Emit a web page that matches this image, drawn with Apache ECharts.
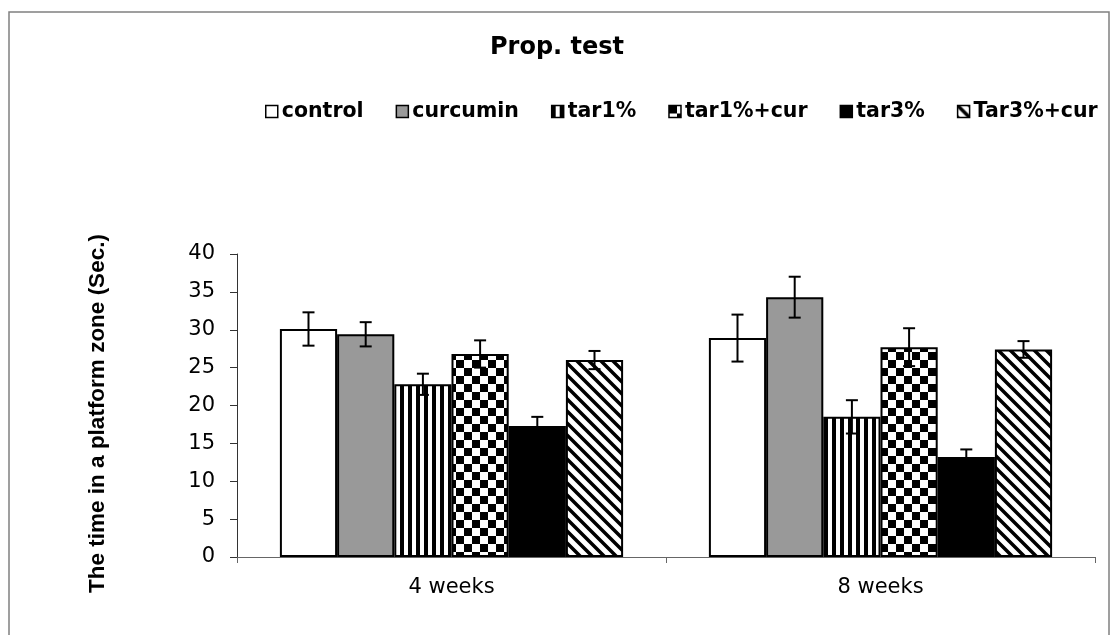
<!DOCTYPE html>
<html>
<head>
<meta charset="utf-8">
<script src="https://cdn.jsdelivr.net/npm/echarts@6/dist/echarts.min.js"></script>
<style>
html,body{margin:0;padding:0;background:#fff;}
#chart{width:1114px;height:635px;}
</style>
</head>
<body>
<div id="chart"></div>
<script>
// ---- data ----
var categories = ['4 weeks', '8 weeks'];
var seriesNames = ['control', 'curcumin', 'tar1%', 'tar1%+cur', 'tar3%', 'Tar3%+cur'];
var controlMean = [30.1, 28.9];
var curcuminMean = [29.4, 34.3];
var tar1Mean = [22.8, 18.5];
var tar1CurMean = [26.8, 27.7];
var tar3Mean = [17.3, 13.2];
var tar3CurMean = [26.0, 27.4];
var controlErr = [2.2, 3.1];
var curcuminErr = [1.6, 2.7];
var tar1Err = [1.4, 2.2];
var tar1CurErr = [1.8, 2.5];
var tar3Err = [1.2, 1.0];
var tar3CurErr = [1.2, 1.1];
var yTicks = [0, 5, 10, 15, 20, 25, 30, 35, 40];

var means = [controlMean, curcuminMean, tar1Mean, tar1CurMean, tar3Mean, tar3CurMean];
var errs = [controlErr, curcuminErr, tar1Err, tar1CurErr, tar3Err, tar3CurErr];

// ---- patterns ----
function makeCanvas(w, h, draw) {
  var c = document.createElement('canvas');
  c.width = w; c.height = h;
  var ctx = c.getContext('2d');
  ctx.fillStyle = '#fff';
  ctx.fillRect(0, 0, w, h);
  ctx.fillStyle = '#000';
  ctx.strokeStyle = '#000';
  draw(ctx);
  return c;
}
var vStripe = makeCanvas(8, 8, function (ctx) { ctx.fillRect(0, 0, 4, 8); });
var checker = makeCanvas(16, 16, function (ctx) { ctx.fillRect(0, 0, 8, 8); ctx.fillRect(8, 8, 8, 8); });
var diag = makeCanvas(12, 12, function (ctx) {
  ctx.lineWidth = 3.5;
  ctx.beginPath();
  ctx.moveTo(-2, -2); ctx.lineTo(14, 14);
  ctx.moveTo(-14, -2); ctx.lineTo(2, 14);
  ctx.moveTo(10, -2); ctx.lineTo(26, 14);
  ctx.stroke();
});
var fills = [
  '#ffffff',
  '#999999',
  { image: vStripe, repeat: 'repeat' },
  { image: checker, repeat: 'repeat' },
  '#000000',
  { image: diag, repeat: 'repeat' }
];

var series = [];
seriesNames.forEach(function (name, i) {
  series.push({
    name: name,
    type: 'bar',
    data: means[i],
    barGap: '0%',
    barCategoryGap: '20%',
    itemStyle: { color: fills[i], borderColor: '#000', borderWidth: 2 },
    emphasis: { disabled: true },
    animation: false
  });
});

var errData = [];
seriesNames.forEach(function (name, i) {
  for (var c = 0; c < categories.length; c++) {
    errData.push([c, means[i][c], errs[i][c], i]);
  }
});

series.push({
  type: 'custom',
  name: 'err',
  z: 10,
  silent: true,
  animation: false,
  encode: { x: 0, y: 1 },
  data: errData,
  renderItem: function (params, api) {
    var cat = api.value(0), val = api.value(1), err = api.value(2), s = api.value(3);
    var band = api.size([1, 0])[0];
    var bw = band * 0.8 / 6;
    var cx = api.coord([cat, val])[0] + (s - 2.5) * bw;
    var top = api.coord([cat, val + err])[1];
    var bot = api.coord([cat, val - err])[1];
    var h = 6;
    var st = { stroke: '#000', lineWidth: 2 };
    return {
      type: 'group',
      children: [
        { type: 'line', shape: { x1: cx, y1: top, x2: cx, y2: bot }, style: st },
        { type: 'line', shape: { x1: cx - h, y1: top, x2: cx + h, y2: top }, style: st },
        { type: 'line', shape: { x1: cx - h, y1: bot, x2: cx + h, y2: bot }, style: st }
      ]
    };
  }
});

var chart = echarts.init(document.getElementById('chart'));
chart.setOption({
  backgroundColor: '#fff',
  animation: false,
  title: {
    text: 'Prop. test',
    left: 'center',
    top: 31,
    textStyle: { fontFamily: 'DejaVu Sans', fontWeight: 'bold', fontSize: 24, color: '#000' }
  },
  legend: {
    data: seriesNames,
    left: 260,
    top: 96,
    itemWidth: 12,
    itemHeight: 12,
    itemGap: 32,
    icon: 'rect',
    itemStyle: { borderColor: '#000', borderWidth: 1.5 },
    textStyle: { fontFamily: 'DejaVu Sans', fontWeight: 'bold', fontSize: 20.5, color: '#000', padding: [0, 0, 0, -1] }
  },
  grid: { left: 237, right: 19, top: 254, bottom: 78 },
  xAxis: {
    type: 'category',
    data: categories,
    axisLine: { lineStyle: { color: '#666', width: 1 } },
    axisTick: { show: true, length: 6, lineStyle: { color: '#666' } },
    axisLabel: { color: '#000', fontFamily: 'DejaVu Sans', fontSize: 21, margin: 20 }
  },
  yAxis: {
    type: 'value',
    min: 0,
    max: 40,
    interval: 5,
    name: 'The time in a platform zone (Sec.)',
    nameLocation: 'middle',
    nameGap: 128,
    nameTextStyle: { fontFamily: 'Liberation Sans', fontWeight: 'bold', fontSize: 22.5, color: '#000', padding: [0, 16, 0, 0] },
    splitLine: { show: false },
    axisLine: { show: true, lineStyle: { color: '#333', width: 1 } },
    axisTick: { show: true, length: 7, lineStyle: { color: '#333' } },
    axisLabel: {
      color: '#000', fontFamily: 'DejaVu Sans', fontSize: 21, margin: 22,
      formatter: function (v) { return yTicks.indexOf(v) >= 0 ? String(v) : ''; }
    }
  },
  graphic: [{
    type: 'rect',
    shape: { x: 9, y: 12, width: 1100, height: 640 },
    style: { fill: 'none', stroke: '#808080', lineWidth: 1.5 },
    silent: true,
    z: -1
  }],
  series: series
});
</script>
</body>
</html>
